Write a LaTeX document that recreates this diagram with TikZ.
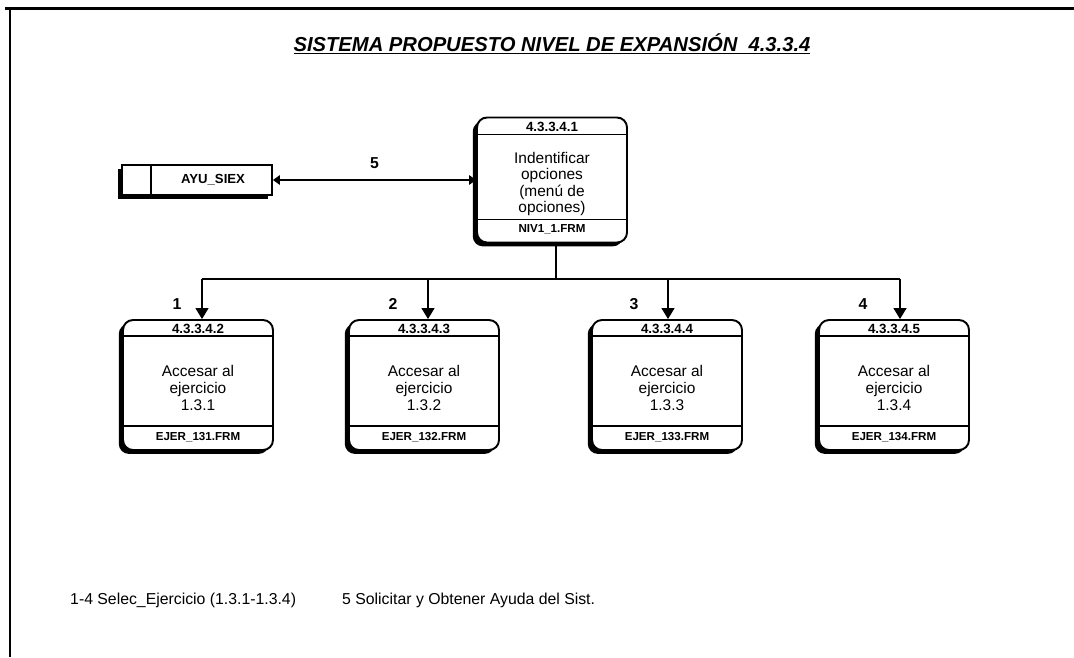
\documentclass[tikz,border=0pt]{standalone}
\usepackage{fontspec}
\setmainfont{Liberation Sans}
\usetikzlibrary{arrows.meta, shadows}

\begin{document}
\begin{tikzpicture}[
  x=0.02cm, y=-0.02cm,
  marco/.style={line width=1.7pt},
  proc/.style={rectangle, draw, line width=1.1pt, rounded corners=0.2cm, fill=white, minimum width=3cm, minimum height=2.6cm, inner sep=0pt,
    drop shadow={shadow xshift=-2.4pt, shadow yshift=-2.2pt, fill=black, opacity=1}},
  almacen/.style={rectangle, draw, line width=1.1pt, fill=white, minimum width=3cm, minimum height=0.6cm, inner sep=0pt,
    drop shadow={shadow xshift=-2.4pt, shadow yshift=-2pt, fill=black, opacity=1}},
  div/.style={line width=0.8pt},
  idtxt/.style={font=\fontsize{7.6}{9}\bfseries\selectfont},
  frm/.style={font=\fontsize{6.6}{8}\bfseries\selectfont},
  cuerpo/.style={align=center, font=\fontsize{8.8}{9.9}\selectfont},
  num/.style={font=\fontsize{9}{10}\bfseries\selectfont},
  flujo/.style={line width=0.7pt},
  flecha/.style={line width=0.7pt, -{Triangle[length=0.22cm, width=0.26cm]}}
]
  \useasboundingbox (0,0) rectangle (1074,657);

  % Marco
  \draw[marco] (5,8) -- (1074,8);
  \draw[marco] (10,8) -- (10,657);

  % Titulo
  \node[font=\fontsize{11.5}{13}\bfseries\itshape\selectfont] (titulo) at (552,44) {\underline{SISTEMA PROPUESTO NIVEL DE EXPANSIÓN\ \ 4.3.3.4}};

  % Almacen de datos
  \node[almacen] (alm) at (197,180) {};
  \draw[div, line width=1pt] ([xshift=0.6cm]alm.north west) -- ([xshift=0.6cm]alm.south west);
  \node[font=\fontsize{7.5}{9}\bfseries\selectfont] (almtxt) at (213,180) {AYU\_SIEX};

  % Proceso 4.3.3.4.1
  \node[proc, minimum height=2.5cm] (p1) at (552,180) {};
  \draw[div] ([yshift=-0.36cm]p1.north west) -- ([yshift=-0.36cm]p1.north east);
  \draw[div] ([yshift=0.48cm]p1.south west) -- ([yshift=0.48cm]p1.south east);
  \node[idtxt] (p1id) at (552,127) {4.3.3.4.1};
  \node[cuerpo, font=\fontsize{8.8}{9.4}\selectfont] (p1b) at (552,184) {Indentificar\\opciones\\(menú de\\opciones)};
  \node[frm] (p1f) at (552,229) {NIV1\_1.FRM};

  % Procesos 4.3.3.4.2 - 4.3.3.4.5
  \node[proc] (p2) at (198,385) {};
  \draw[div] ([yshift=-0.34cm]p2.north west) -- ([yshift=-0.34cm]p2.north east);
  \draw[div] ([yshift=0.5cm]p2.south west) -- ([yshift=0.5cm]p2.south east);
  \node[idtxt] (p2id) at (198,329) {4.3.3.4.2};
  \node[cuerpo] (p2b) at (198,388) {Accesar al\\ejercicio\\1.3.1};
  \node[frm] (p2f) at (198,437) {EJER\_131.FRM};

  \node[proc] (p3) at (424,385) {};
  \draw[div] ([yshift=-0.34cm]p3.north west) -- ([yshift=-0.34cm]p3.north east);
  \draw[div] ([yshift=0.5cm]p3.south west) -- ([yshift=0.5cm]p3.south east);
  \node[idtxt] (p3id) at (424,329) {4.3.3.4.3};
  \node[cuerpo] (p3b) at (424,388) {Accesar al\\ejercicio\\1.3.2};
  \node[frm] (p3f) at (424,437) {EJER\_132.FRM};

  \node[proc] (p4) at (667,385) {};
  \draw[div] ([yshift=-0.34cm]p4.north west) -- ([yshift=-0.34cm]p4.north east);
  \draw[div] ([yshift=0.5cm]p4.south west) -- ([yshift=0.5cm]p4.south east);
  \node[idtxt] (p4id) at (667,329) {4.3.3.4.4};
  \node[cuerpo] (p4b) at (667,388) {Accesar al\\ejercicio\\1.3.3};
  \node[frm] (p4f) at (667,437) {EJER\_133.FRM};

  \node[proc] (p5) at (894,385) {};
  \draw[div] ([yshift=-0.34cm]p5.north west) -- ([yshift=-0.34cm]p5.north east);
  \draw[div] ([yshift=0.5cm]p5.south west) -- ([yshift=0.5cm]p5.south east);
  \node[idtxt] (p5id) at (894,329) {4.3.3.4.5};
  \node[cuerpo] (p5b) at (894,388) {Accesar al\\ejercicio\\1.3.4};
  \node[frm] (p5f) at (894,437) {EJER\_134.FRM};

  % Flujos
  \draw[flujo, {Triangle[length=4pt, width=5.5pt]}-{Triangle[length=4pt, width=5.5pt]}] (alm.east) -- (alm.east -| p1.west)
    node[num, midway, above=3pt] (n5) {5};

  \coordinate (bus) at (556,279);
  \coordinate (b2) at (202,279);
  \coordinate (b3) at (428,279);
  \coordinate (b4) at (668,279);
  \coordinate (b5) at (900,279);
  \draw[flujo] (bus |- p1.south) -- (bus);
  \draw[flujo] (b2) -- (b5);
  \draw[flecha] (b2) -- (b2 |- p2.north);
  \draw[flecha] (b3) -- (b3 |- p3.north);
  \draw[flecha] (b4) -- (b4 |- p4.north);
  \draw[flecha] (b5) -- (b5 |- p5.north);

  \node[num] (n1) at (177,304) {1};
  \node[num] (n2) at (393,304) {2};
  \node[num] (n3) at (634,304) {3};
  \node[num] (n4) at (863,304) {4};

  % Leyenda
  \node[anchor=west, font=\fontsize{9}{10}\selectfont] (ley1) at (64,600) {1-4 Selec\_Ejercicio (1.3.1-1.3.4)};
  \node[anchor=west, font=\fontsize{9}{10}\selectfont] (ley2) at (336,600) {5 Solicitar y Obtener Ayuda del Sist.};
\end{tikzpicture}
\end{document}
